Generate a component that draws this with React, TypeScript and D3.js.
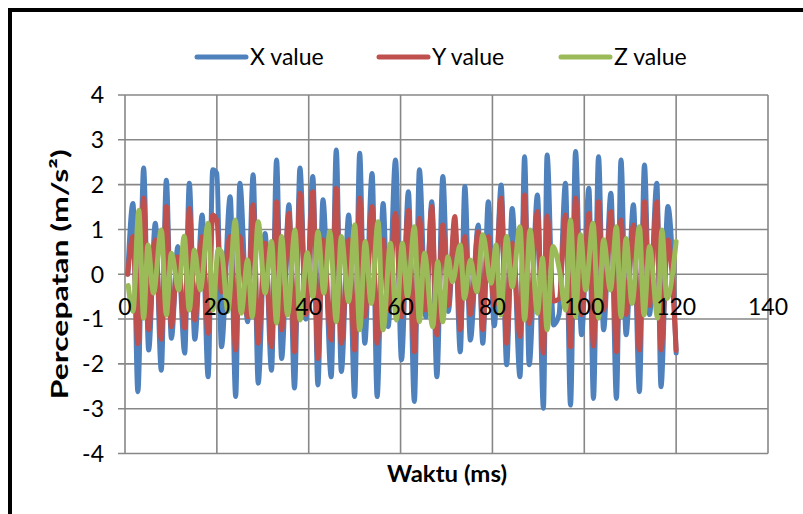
import React from 'react';
import * as d3 from 'd3';

const timeXY = [
  0.6, 1.74, 2.8, 4.06, 5.15, 6.6, 7.9, 9.0, 10.1, 11.5,
  13.0, 14.0, 15.2, 16.8, 18.1, 19.1, 20.0, 21.0, 22.9, 24.1,
  25.0, 26.7, 27.9, 29.0, 30.5, 31.9, 33.0, 34.1, 35.7, 36.9,
  38.1, 39.4, 40.9, 42.0, 43.1, 44.9, 46.0, 47.1, 48.7, 50.0,
  51.1, 52.2, 53.8, 54.9, 56.2, 57.3, 58.9, 60.2, 61.7, 63.0,
  64.1, 65.5, 66.8, 67.9, 69.2, 70.4, 71.8, 73.0, 74.0, 75.2,
  76.9, 77.9, 79.1, 80.4, 81.9, 83.1, 84.3, 86.0, 87.0, 88.0,
  89.8, 91.1, 91.9, 93.3, 94.5, 95.9, 97.0, 98.1, 99.4, 101.0,
  102.0, 103.1, 104.2, 105.8, 107.0, 108.0, 109.1, 110.7, 112.0, 113.1,
  114.2, 115.8, 116.7, 118.2, 120,
];

const xValues = [
  0, 1.58, -2.62, 2.37, -1.69, 1.14, -2.14, 2.10, -1.43, 0.62,
  -1.76, 2.03, -1.45, 1.32, -2.29, 2.33, 2.25, -1.62, 1.73, -2.73,
  2.03, -1.06, 2.22, -2.43, 0.91, -2.14, 2.55, -1.88, 1.55, -2.54,
  2.37, -1.0, 2.18, -2.47, 1.66, -2.29, 2.77, -2.17, 1.32, -2.73,
  2.70, -1.54, 2.25, -2.73, 1.58, -1.17, 2.55, -1.91, 1.84, -2.84,
  2.33, -0.95, 1.62, -2.29, 2.18, -0.83, 1.1, -1.73, 1.96, -1.47,
  1.1, -1.54, 1.62, -1.15, 1.99, -2.02, 1.47, -2.29, 2.62, -2.02,
  1.77, -2.99, 2.66, -1.13, -0.9, 2.03, -2.92, 2.74, -1.35, 1.92,
  -2.77, 2.62, -1.24, 1.81, -2.77, 2.55, -1.35, 1.55, -2.62, 2.44,
  -0.9, 2.03, -2.51, 1.51, -1.76,
];

const yValues = [
  0, 0.84, -1.55, 1.70, -1.24, 0.77, -1.45, 1.51, -1.17, 0.39,
  -1.2, 1.47, -1.02, 0.84, -1.32, 1.32, 1.2, -0.4, 0.84, -1.69,
  0.84, -0.95, 1.55, -1.54, 0.7, -1.62, 1.62, -1.24, 1.36, -1.73,
  1.81, -0.9, 1.84, -1.88, 0.77, -1.47, 1.92, -1.54, 0.77, -1.69,
  1.70, -0.95, 1.51, -1.54, 0.77, -0.8, 1.36, -0.95, 1.43, -1.73,
  1.25, -0.8, 1.51, -1.35, 1.1, -0.7, 1.29, -1.24, 0.84, -0.9,
  0.95, -1.24, 0.84, -0.7, 1.70, -1.54, 0.7, -1.39, 1.77, -1.1,
  1.40, -1.76, 1.3, -0.6, -0.55, 1.32, -1.62, 1.70, -0.9, 1.36,
  -1.6, 1.62, -0.8, 1.40, -1.73, 1.21, -0.9, 1.1, -1.69, 1.62,
  -0.7, 1.62, -1.69, 0.77, -1.7,
];

const timeZ = [
  0.7, 1.74, 3.0, 4.06, 5.0, 6.2, 7.9, 9.0, 10.1, 11.7,
  12.9, 14.0, 15.1, 16.4, 18.1, 19.1, 20.3, 21.0, 22.4, 24.0,
  25.3, 26.7, 27.7, 29.0, 30.5, 31.9, 33.0, 34.1, 35.4, 37.0,
  38.1, 39.7, 40.9, 42.0, 43.3, 44.6, 46.0, 47.1, 48.7, 50.0,
  51.1, 52.3, 53.6, 55.1, 56.2, 57.8, 59.1, 60.4, 61.5, 63.0,
  64.1, 65.2, 67.0, 68.1, 69.2, 70.3, 71.3, 73.0, 73.9, 75.2,
  76.6, 77.9, 79.7, 80.8, 81.8, 83.1, 84.3, 86.0, 87.0, 88.2,
  89.8, 90.9, 91.9, 93.2, 94.7, 95.9, 97.0, 98.1, 99.2, 100.3,
  101.9, 103.1, 104.2, 105.7, 107.0, 108.0, 109.1, 110.4, 112.0, 113.0,
  114.2, 116.0, 116.9, 118.0, 120,
];

const zValues = [
  -0.25, -0.83, 1.43, -0.98, 0.65, -0.42, 0.99, -0.91, 0.47, -0.35,
  0.85, -0.80, 0.54, -0.35, 1.14, -0.80, 0.56, 0.5, -0.83, 1.21,
  -0.87, 0.32, -0.95, 1.17, -0.42, 0.73, -1.09, 0.84, -0.91, 0.99,
  -1.02, 0.48, -0.50, 0.95, -0.42, 0.95, -1.06, 0.84, -0.61, 1.1,
  -1.24, 0.73, -0.65, 1.17, -1.24, 0.69, -1.02, 0.69, -0.50, 1.06,
  -1.06, 0.47, -1.17, 0.28, -1.06, 0.39, -0.17, 0.65, -0.54, 0.32,
  -0.39, 0.88, -0.20, 0.65, -0.91, 0.84, -0.28, 1.06, -1.02, 0.99,
  -0.87, 0.36, -1.24, 0.62, 0.03, -0.80, 1.21, -0.95, 0.88, -0.35,
  1.14, -0.98, 0.77, -0.35, 1.06, -0.95, 0.80, -0.65, 1.06, -0.91,
  0.62, -0.98, 0.99, -0.54, 0.73,
];

const xTicks = [0, 20, 40, 60, 80, 100, 120, 140];
const yTicks = [-4, -3, -2, -1, 0, 1, 2, 3, 4];
const seriesNames = ['X value', 'Y value', 'Z value'];
const seriesColors = ['#4F81BD', '#C0504D', '#9BBB59'];

const FONT = "Lato, 'Open Sans', sans-serif";

export default function App() {
  const W = 803;
  const H = 514;
  const x = d3.scaleLinear().domain([0, 140]).range([125, 768]);
  const y = d3.scaleLinear().domain([-4, 4]).range([453.5, 95]);
  const line = d3
    .line<[number, number]>()
    .x((d) => x(d[0]))
    .y((d) => y(d[1]))
    .curve(d3.curveMonotoneX);

  const series: [number, number][][] = [
    timeXY.map((t, i) => [t, xValues[i]] as [number, number]),
    timeXY.map((t, i) => [t, yValues[i]] as [number, number]),
    timeZ.map((t, i) => [t, zValues[i]] as [number, number]),
  ];

  const legendX = [197, 379, 561];

  return (
    <svg
      width={W}
      height={H}
      style={{ position: 'absolute', left: 0, top: 0, background: '#fff' }}
      fontFamily={FONT}
    >
      <rect x={0} y={0} width={W} height={H} fill="#fff" />
      {/* outer chart border */}
      <rect x={10} y={10} width={820} height={540} fill="none" stroke="#000" strokeWidth={4} />

      {/* gridlines */}
      {yTicks.map((v) => (
        <line key={'hy' + v} x1={118} x2={x(140)} y1={y(v)} y2={y(v)} stroke="#878787" strokeWidth={1.6} />
      ))}
      {xTicks.map((v) => (
        <line key={'vx' + v} x1={x(v)} x2={x(v)} y1={y(4)} y2={y(-4)} stroke="#878787" strokeWidth={1.6} />
      ))}

      {/* y tick labels */}
      {yTicks.map((v) => (
        <text key={'ly' + v} x={104} y={y(v)} dy="0.36em" textAnchor="end" fontSize={23} fill="#000">
          {v}
        </text>
      ))}

      {/* series */}
      {series.map((s, i) => (
        <path
          key={'s' + i}
          d={line(s) || ''}
          fill="none"
          stroke={seriesColors[i]}
          strokeWidth={5}
          strokeLinejoin="round"
          strokeLinecap="round"
        />
      ))}

      {/* x tick labels (drawn over the lines, at the zero axis) */}
      {xTicks.map((v) => (
        <text key={'lx' + v} x={x(v)} y={y(0) + 41} textAnchor="middle" fontSize={23} fill="#000">
          {v}
        </text>
      ))}

      {/* legend */}
      {seriesNames.map((n, i) => (
        <g key={'lg' + i}>
          <line
            x1={legendX[i]}
            x2={legendX[i] + 49}
            y1={57}
            y2={57}
            stroke={seriesColors[i]}
            strokeWidth={5}
            strokeLinecap="round"
          />
          <text x={legendX[i] + 53} y={57} dy="0.36em" fontSize={23} fill="#000">
            {n}
          </text>
        </g>
      ))}

      {/* axis titles */}
      <text
        x={447}
        y={474}
        dy="0.36em"
        textAnchor="middle"
        fontSize={23}
        fontWeight="bold"
        fill="#000"
        textLength={120}
        lengthAdjust="spacingAndGlyphs"
      >
        Waktu (ms)
      </text>
      <text
        transform={`translate(60, ${(y(4) + y(-4)) / 2}) rotate(-90)`}
        dy="0.36em"
        textAnchor="middle"
        fontSize={23}
        fontWeight="bold"
        fill="#000"
        textLength={250}
        lengthAdjust="spacingAndGlyphs"
      >
        Percepatan (m/s²)
      </text>
    </svg>
  );
}
